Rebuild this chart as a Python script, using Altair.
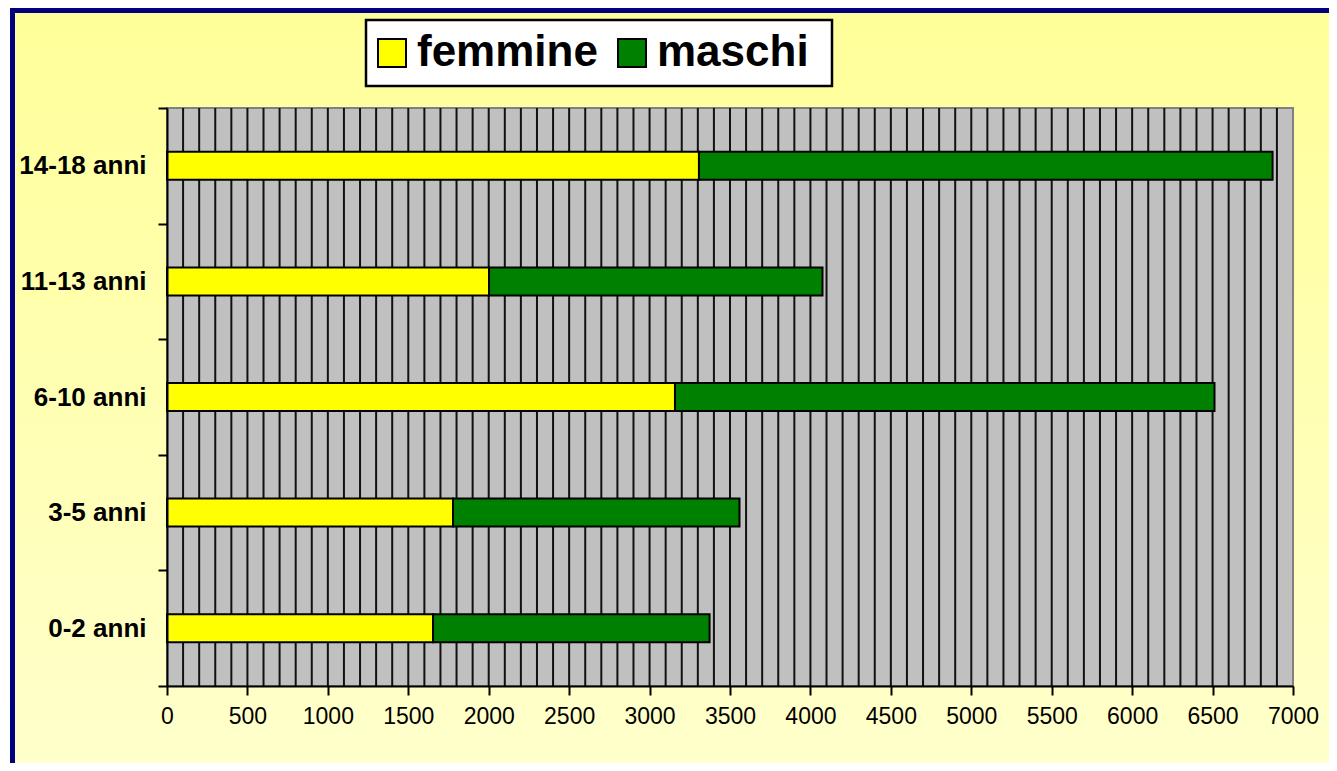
import altair as alt
import pandas as pd

# ---- data ----
categories = ["0-2 anni", "3-5 anni", "6-10 anni", "11-13 anni", "14-18 anni"]
femmine = [1654, 1778, 3158, 2002, 3307]
maschi = [1719, 1781, 3354, 2073, 3566]
series = ["femmine", "maschi"]
series_colors = ["#FFFF00", "#008000"]
x_ticks = list(range(0, 7001, 500))
grid_lines = list(range(100, 7000, 100))

W, H = 1126, 578
FONT = "Liberation Sans"

rows = []
for c, f, m in zip(categories, femmine, maschi):
    rows.append({"cat": c, "serie": "femmine", "v": f, "ord": 0})
    rows.append({"cat": c, "serie": "maschi", "v": m, "ord": 1})
df = pd.DataFrame(rows)
grid_df = pd.DataFrame({"v": grid_lines})
one = pd.DataFrame({"a": [0]})

x_scale = alt.Scale(domain=[0, 7000], nice=False, zero=True)
x_axis = alt.Axis(
    title=None, values=x_ticks, format="d", grid=False, labelFont=FONT,
    labelFontSize=23, labelColor="black", tickSize=9, tickColor="black",
    tickWidth=2, domainColor="black", domainWidth=2, labelPadding=10,
    zindex=1, labelFlush=False, labelOverlap=False,
)

background = alt.Chart(one).mark_rect(
    fill=alt.Gradient(
        gradient="linear",
        stops=[alt.GradientStop(color="#FFFF99", offset=0),
               alt.GradientStop(color="#FFFFCC", offset=1)],
        x1=0, x2=0, y1=0, y2=1,
    ),
).encode(
    x=alt.value(-154.5), x2=alt.value(W + 60),
    y=alt.value(-97.5), y2=alt.value(H + 90),
)

border_left = alt.Chart(one).mark_rule(color="#000080", strokeWidth=5).encode(
    x=alt.value(-154.5), y=alt.value(-100), y2=alt.value(H + 90)
)
border_top = alt.Chart(one).mark_rule(color="#000080", strokeWidth=5).encode(
    x=alt.value(-157), x2=alt.value(W + 60), y=alt.value(-97.5)
)

legend_box = alt.Chart(one).mark_rect(
    fill="white", stroke="black", strokeWidth=2.5
).encode(
    x=alt.value(199), x2=alt.value(665), y=alt.value(-88), y2=alt.value(-22)
)

plot_area = alt.Chart(one).mark_rect(
    fill="#C0C0C0", stroke="#808080", strokeWidth=2
).encode(
    x=alt.value(0), x2=alt.value(W), y=alt.value(0), y2=alt.value(H)
)

grid = alt.Chart(grid_df).mark_rule(color="#111111", strokeWidth=2).encode(
    x=alt.X("v:Q", scale=x_scale, axis=x_axis),
    y=alt.value(0), y2=alt.value(H),
)

bars = alt.Chart(df).mark_bar(size=28, stroke="black", strokeWidth=2, opacity=1).encode(
    x=alt.X("v:Q", stack="zero", scale=x_scale, axis=x_axis),
    y=alt.Y(
        "cat:N", sort=list(reversed(categories)),
        scale=alt.Scale(paddingInner=0, paddingOuter=0),
        axis=alt.Axis(
            title=None, tickBand="extent", labelFont=FONT, labelFontSize=26,
            labelFontWeight="bold", labelColor="black", tickSize=9,
            tickColor="black", tickWidth=2, domainColor="black", domainWidth=2,
            labelPadding=12, grid=False, zindex=1,
        ),
    ),
    color=alt.Color(
        "serie:N",
        scale=alt.Scale(domain=series, range=series_colors),
        legend=alt.Legend(
            title=None, orient="none", legendX=192, legendY=-88,
            direction="horizontal", symbolType="square", symbolSize=784,
            symbolStrokeColor="black", symbolStrokeWidth=2, symbolOpacity=1,
            labelFont=FONT, labelFontSize=44, labelFontWeight="bold",
            labelColor="black", labelOffset=3, columnPadding=12, padding=11,
            zindex=1, labelLimit=600,
        ),
    ),
    order=alt.Order("ord:Q"),
)

chart = alt.layer(
    background, border_left, border_top, legend_box, plot_area, grid, bars
).properties(
    width=W, height=H,
    autosize=alt.AutoSizeParams(type="none"),
    padding={"left": 159, "top": 100, "right": 36, "bottom": 77},
    background="white",
).configure_view(stroke=None)

chart.save("out.html", embed_options={"renderer": "svg", "actions": False})
